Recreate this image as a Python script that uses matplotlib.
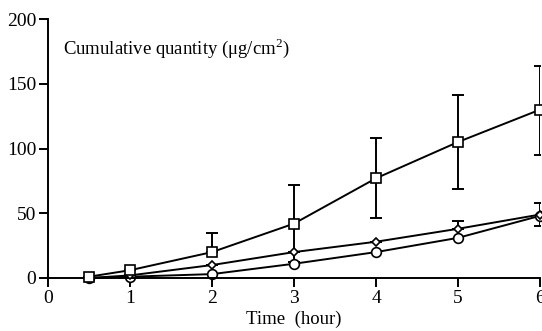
import matplotlib.pyplot as plt
import numpy as np

plt.rcParams['font.family'] = ['Liberation Serif', 'DejaVu Serif']
plt.rcParams['mathtext.fontset'] = 'custom'
plt.rcParams['mathtext.rm'] = 'Liberation Serif'

# time points (hour)
time = [0.5, 1, 2, 3, 4, 5, 6]

# cumulative quantity, three formulations
squares = [1, 6, 20, 42, 77, 105, 130]
squares_err_lo = [0, 0, 0, 30, 31, 36, 35]
squares_err_hi = [0, 0, 15, 30, 31, 36, 34]

diamonds = [0, 2, 10, 20, 28, 38, 49]
diamonds_err_lo = [0, 0, 0, 0, 0, 0, 9]
diamonds_err_hi = [0, 0, 0, 0, 0, 6, 9]

circles = [0, 1, 3, 11, 20, 31, 48]

fig = plt.figure(figsize=(5.42, 3.31), dpi=100)
ax = fig.add_axes([48 / 542, 1 - 278 / 331, 492 / 542, 259 / 331])

lw = 1.4
ax.errorbar(time, squares, yerr=[squares_err_lo, squares_err_hi], fmt='none',
            ecolor='black', elinewidth=lw, capsize=4, capthick=lw, zorder=1)
ax.errorbar(time, diamonds, yerr=[diamonds_err_lo, diamonds_err_hi], fmt='none',
            ecolor='black', elinewidth=lw, capsize=4, capthick=lw, zorder=1)

ax.plot(time, circles, '-o', color='black', lw=lw, markersize=7,
        markerfacecolor='white', markeredgewidth=1.2, zorder=2, clip_on=False)
ax.plot(time, diamonds, '-D', color='black', lw=lw, markersize=4.5,
        markerfacecolor='white', markeredgewidth=1.2, zorder=3, clip_on=False)
ax.plot(time, squares, '-s', color='black', lw=lw, markersize=7,
        markerfacecolor='white', markeredgewidth=1.2, zorder=4, clip_on=False)

ax.set_xlim(0, 6)
ax.set_ylim(0, 200)
ax.set_xticks(range(0, 7))
ax.set_yticks([0, 50, 100, 150, 200])
for s in ['top', 'right']:
    ax.spines[s].set_visible(False)
for s in ['left', 'bottom']:
    ax.spines[s].set_linewidth(1.4)
ax.tick_params(direction='out', length=6.5, width=1.4, labelsize=14, pad=2)

ax.text(0.03, 0.935, 'Cumulative quantity (\u03bcg/cm$^2$)', transform=ax.transAxes,
        fontsize=13.5, va='top', ha='left')
ax.set_xlabel('Time  (hour)', fontsize=13.5, labelpad=3)

fig.savefig('out.png', dpi=100)
